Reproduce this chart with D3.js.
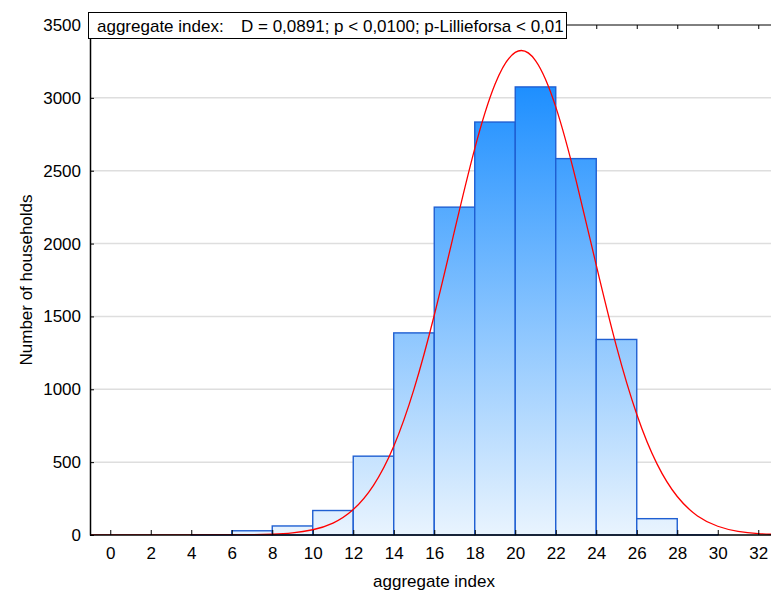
<!DOCTYPE html>
<html>
<head>
<meta charset="utf-8">
<script src="https://cdn.jsdelivr.net/npm/d3@7"></script>
<style>
  body { margin: 0; background: #fff; }
  svg { display: block; font-family: Arial, "Liberation Sans", sans-serif; }
</style>
</head>
<body>
<div class="chart"></div>
<script>
'use strict'

// DATA
const binStarts = [0, 2, 4, 6, 8, 10, 12, 14, 16, 18, 20, 22, 24, 26, 28, 30]
const binCounts = [0, 0, 2, 29, 62, 168, 541, 1387, 2250, 2834, 3075, 2583, 1342, 112, 1, 0]
const binWidth = 2

// fitted normal curve at whole units
const curveX = [-1, 0, 1, 2, 3, 4, 5, 6, 7, 8, 9, 10, 11, 12, 13, 14, 15, 16,
  17, 18, 19, 20, 21, 22, 23, 24, 25, 26, 27, 28, 29, 30, 31, 32, 33]
const curveY = [0, 0, 0, 0, 0, 0, 0.2, 0.5, 1.7, 5.2, 14, 36, 82, 175, 341, 609, 1001, 1508,
  2087, 2652, 3093, 3312, 3256, 2938, 2435, 1852, 1293, 829, 488, 264, 131, 60, 25, 9.5, 3.4]

const xTicks = [0, 2, 4, 6, 8, 10, 12, 14, 16, 18, 20, 22, 24, 26, 28, 30, 32]
const yTicks = [0, 500, 1000, 1500, 2000, 2500, 3000, 3500]

const legendLabel = 'aggregate index:'
const legendStats = 'D = 0,0891; p < 0,0100; p-Lillieforsa < 0,01'
const xTitle = 'aggregate index'
const yTitle = 'Number of households'

function main() {
  const W = 771, H = 595
  const left = 90, right = 778.5, top = 25, bottom = 535

  const x = d3.scaleLinear([-1, 33], [left, right])
  const y = d3.scaleLinear([0, 3500], [bottom, top])

  const svg = d3.select('.chart')
    .append('svg')
    .attr('width', W)
    .attr('height', H)

  const defs = svg.append('defs')
  const grad = defs.append('linearGradient')
    .attr('id', 'barGrad')
    .attr('gradientUnits', 'userSpaceOnUse')
    .attr('x1', 0).attr('x2', 0)
    .attr('y1', y(d3.max(binCounts))).attr('y2', bottom)
  grad.append('stop').attr('offset', 0).attr('stop-color', '#1e8fff')
  grad.append('stop').attr('offset', 1).attr('stop-color', '#e9f4fe')

  defs.append('clipPath').attr('id', 'plotClip')
    .append('rect')
    .attr('x', left).attr('y', top)
    .attr('width', right - left).attr('height', bottom - top)

  // GRID
  svg.append('g')
    .selectAll('line')
    .data(yTicks.filter(d => d > 0 && d < 3500))
    .join('line')
    .attr('x1', left).attr('x2', W)
    .attr('y1', d => y(d)).attr('y2', d => y(d))
    .attr('stroke', '#dedede')
    .attr('stroke-width', 1.5)

  // BARS
  const bars = binStarts.map((s, i) => ({ x0: s, x1: s + binWidth, n: binCounts[i] }))
    .filter(d => d.n > 0)

  svg.append('g')
    .selectAll('rect')
    .data(bars)
    .join('rect')
    .attr('x', d => x(d.x0))
    .attr('y', d => y(d.n))
    .attr('width', d => x(d.x1) - x(d.x0))
    .attr('height', d => bottom - y(d.n))
    .attr('fill', 'url(#barGrad)')
    .attr('stroke', '#1f5fd2')
    .attr('stroke-width', 1.4)

  // NORMAL CURVE
  const line = d3.line()
    .x(d => x(d[0]))
    .y(d => y(Math.max(0, d[1])))
    .curve(d3.curveNatural)

  svg.append('path')
    .attr('clip-path', 'url(#plotClip)')
    .attr('d', line(curveX.map((v, i) => [v, curveY[i]])))
    .attr('fill', 'none')
    .attr('stroke', '#ff0000')
    .attr('stroke-width', 1.3)

  // AXES
  const xAxis = d3.axisBottom(x).tickValues(xTicks).tickSizeInner(-5).tickSizeOuter(0).tickPadding(12)
  const xAxisDraw = svg.append('g')
    .attr('transform', `translate(0, ${bottom})`)
    .call(xAxis)
  xAxisDraw.select('.domain').attr('d', `M${left},0H${W}`).attr('stroke', '#000').attr('stroke-width', 1.5)

  const xAxisTop = d3.axisTop(x).tickValues(xTicks).tickSizeInner(-4).tickSizeOuter(0).tickFormat('')
  const xTopDraw = svg.append('g')
    .attr('transform', `translate(0, ${top})`)
    .call(xAxisTop)
  xTopDraw.select('.domain').attr('d', `M${left},0H${W}`).attr('stroke', '#000')

  const yAxis = d3.axisLeft(y).tickValues(yTicks).tickFormat(d3.format('d'))
    .tickSizeInner(-4).tickSizeOuter(0).tickPadding(9)
  const yAxisDraw = svg.append('g')
    .attr('transform', `translate(${left}, 0)`)
    .call(yAxis)
  yAxisDraw.select('.domain').attr('stroke', '#000').attr('stroke-width', 1.5)

  svg.selectAll('.tick text')
    .attr('font-size', 17)
    .attr('font-family', 'Arial, "Liberation Sans", sans-serif')
    .attr('fill', '#000')
  svg.selectAll('.tick line').attr('stroke', '#000')

  // TITLES
  svg.append('text')
    .attr('x', 434)
    .attr('y', 587)
    .attr('text-anchor', 'middle')
    .attr('font-size', 17)
    .text(xTitle)

  svg.append('text')
    .attr('transform', 'translate(31.5, 280) rotate(-90)')
    .attr('text-anchor', 'middle')
    .attr('font-size', 17)
    .text(yTitle)

  // LEGEND BOX
  const box = svg.append('g')
  box.append('rect')
    .attr('x', 88.5).attr('y', 12.5)
    .attr('width', 478).attr('height', 26)
    .attr('fill', '#fff')
    .attr('stroke', '#000')
  box.append('text')
    .attr('x', 97).attr('y', 31.5)
    .attr('font-size', 17)
    .text(legendLabel)
  box.append('text')
    .attr('x', 241).attr('y', 31.5)
    .attr('font-size', 17)
    .text(legendStats)
}

// START
main()
</script>
</body>
</html>
